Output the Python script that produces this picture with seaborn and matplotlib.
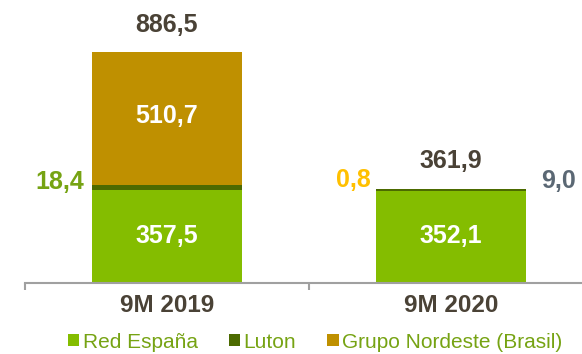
import matplotlib
matplotlib.use("Agg")
import matplotlib.pyplot as plt
from matplotlib.patches import Patch
import seaborn as sns
import pandas as pd

periods = ["9M 2019", "9M 2020"]
red_espana = [357.5, 352.1]
luton = [18.4, 9.0]
grupo_nordeste = [510.7, 0.8]
totals = [886.5, 361.9]
series_names = ["Red España", "Luton", "Grupo Nordeste (Brasil)"]

GREEN = "#84BD00"
DARK = "#4C6A00"
GOLD = "#BF9000"
TXT = "#4A4236"

sns.set_theme(style="white")
plt.rcParams["font.family"] = ["Liberation Sans", "DejaVu Sans"]

df = pd.DataFrame({
    "period": periods,
    "red": red_espana,
    "red_luton": [r + l for r, l in zip(red_espana, luton)],
    "total": [r + l + g for r, l, g in zip(red_espana, luton, grupo_nordeste)],
})

fig = plt.figure(figsize=(5.82, 3.54), dpi=100)
# the axes run a little past the right edge of the figure
ax = fig.add_axes([25 / 582, 71 / 354, 568 / 582, 1 - 71 / 354])

W = 0.525
bar_kw = dict(width=W, saturation=1, linewidth=0, ax=ax)
# stacked bars drawn back to front as cumulative heights
sns.barplot(data=df, x="period", y="total", color=GOLD, **bar_kw)
sns.barplot(data=df, x="period", y="red_luton", color=DARK, **bar_kw)
sns.barplot(data=df, x="period", y="red", color=GREEN, **bar_kw)

ax.set_xlim(-0.5, 1.5)
ax.set_ylim(0, 1086)
ax.set_xlabel("")
ax.set_ylabel("")
ax.set_yticks([])
for s in ["top", "right", "left"]:
    ax.spines[s].set_visible(False)
ax.spines["bottom"].set_color("#A0A0A0")
ax.spines["bottom"].set_linewidth(1.5)

ax.set_xticks([0, 1])
ax.set_xticklabels(periods, fontsize=17.5, fontweight="bold", color=TXT)
ax.tick_params(axis="x", which="major", length=0, pad=8)
ax.set_xticks([-0.5, 0.5, 1.5], minor=True)
ax.tick_params(axis="x", which="minor", length=5, width=1.5, color="#A0A0A0",
               direction="out", bottom=True)

lab = dict(fontsize=18, fontweight="bold", ha="center", va="center")


def fmt(v):
    return f"{v:.1f}".replace(".", ",")


# segment values inside bars
for i in range(2):
    ax.text(i, 180, fmt(red_espana[i]), color="white", **lab)
ax.text(0, red_espana[0] + luton[0] + grupo_nordeste[0] / 2 + 10,
        fmt(grupo_nordeste[0]), color="white", **lab)

# totals above bars
for i in range(2):
    ax.text(i, totals[i] + 105, fmt(totals[i]), color=TXT, **lab)

# small segment callouts beside bars
ax.text(-0.377, 388, fmt(luton[0]), color="#76A313", **lab)
ax.text(0.655, 395, fmt(grupo_nordeste[1]), color="#FFC000", **lab)
ax.text(1.38, 392, fmt(luton[1]), color="#5B6874", **lab)

handles = [Patch(facecolor=c, edgecolor="none") for c in (GREEN, DARK, GOLD)]
leg = fig.legend(handles, series_names, loc="center", bbox_to_anchor=(315 / 582, 1 - 342 / 354),
                 ncol=3, frameon=False, fontsize=15, handlelength=0.55, handleheight=0.55,
                 handletextpad=0.15, columnspacing=1.5, borderaxespad=0)
for t in leg.get_texts():
    t.set_color("#76A313")

fig.savefig("out.png", dpi=100)
